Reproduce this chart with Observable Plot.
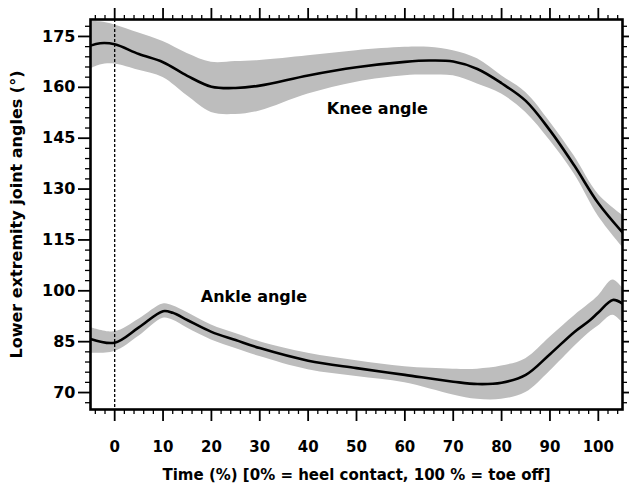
<!DOCTYPE html>
<html>
<head>
<meta charset="utf-8">
<script src="https://cdn.jsdelivr.net/npm/d3@7"></script>
<script src="https://cdn.jsdelivr.net/npm/@observablehq/plot@0.6"></script>
<style>
body { margin: 0; background: #fff; }
</style>
</head>
<body>
<div id="chart"></div>
<script>
// Time (% of stance)
const kneeTime = [-5, -3, 0, 5, 10, 15, 20, 25, 30, 40, 50, 60, 65, 70, 75, 80, 85, 90, 95, 100, 105];
const kneeMean = [172.3, 173.0, 172.7, 169.8, 167.4, 163.4, 160.2, 159.8, 160.5, 163.5, 165.9, 167.5, 167.9, 167.6, 165.4, 161.2, 156.0, 147.3, 137.0, 125.8, 117.2];
const kneeUpper = [179.4, 179.3, 178.4, 176.0, 173.5, 170.0, 167.4, 167.6, 167.9, 169.3, 170.8, 171.8, 171.8, 170.8, 168.4, 163.4, 158.5, 149.8, 139.8, 128.5, 122.3];
const kneeLower = [165.4, 166.6, 166.9, 165.0, 162.9, 157.5, 152.6, 152.0, 153.0, 158.0, 161.5, 163.4, 163.6, 163.4, 161.0, 158.0, 152.6, 144.3, 134.5, 122.0, 112.9];

const ankleTime = [-5, 0, 5, 10, 12, 15, 20, 25, 30, 40, 50, 60, 70, 75, 80, 85, 90, 95, 98, 100, 103, 105];
const ankleMean = [85.8, 84.7, 89.2, 94.0, 93.5, 91.4, 87.9, 85.5, 83.1, 79.4, 77.2, 75.2, 73.2, 72.5, 72.9, 75.2, 81.3, 87.8, 91.0, 93.6, 97.3, 96.2];
const ankleUpper = [89.2, 87.9, 91.6, 96.1, 95.6, 93.6, 89.9, 87.4, 85.0, 81.6, 79.4, 77.6, 76.9, 76.9, 77.8, 80.0, 86.3, 92.6, 96.0, 98.5, 103.2, 100.8];
const ankleLower = [81.6, 82.1, 86.6, 91.9, 91.4, 89.0, 85.5, 83.0, 80.6, 76.7, 74.7, 72.9, 69.3, 68.0, 68.0, 70.0, 76.3, 83.5, 87.5, 89.6, 92.8, 90.5];

const xMajorTicks = [0, 10, 20, 30, 40, 50, 60, 70, 80, 90, 100];
const xMinorTicks = [-4, -2, 2, 4, 6, 8, 12, 14, 16, 18, 22, 24, 26, 28, 32, 34, 36, 38, 42, 44, 46, 48, 52, 54, 56, 58, 62, 64, 66, 68, 72, 74, 76, 78, 82, 84, 86, 88, 92, 94, 96, 98, 102, 104];
const yMajorTicks = [70, 85, 100, 115, 130, 145, 160, 175];
const yMinorTicks = [67, 73, 76, 79, 82, 88, 91, 94, 97, 103, 106, 109, 112, 118, 121, 124, 127, 133, 136, 139, 142, 148, 151, 154, 157, 163, 166, 169, 172, 178];

const annotations = [
  {x: 54.3, y: 153.7, text: "Knee angle"},
  {x: 28.8, y: 98.1, text: "Ankle angle"}
];

const knee = kneeTime.map((t, i) => ({t, mean: kneeMean[i], hi: kneeUpper[i], lo: kneeLower[i]}));
const ankle = ankleTime.map((t, i) => ({t, mean: ankleMean[i], hi: ankleUpper[i], lo: ankleLower[i]}));

const curve = "catmull-rom";
const band = "#bdbdbd";
const font = "'DejaVu Sans', 'Liberation Sans', sans-serif";

const chart = Plot.plot({
  width: 629,
  height: 486,
  marginLeft: 90,
  marginRight: 7,
  marginTop: 19,
  marginBottom: 77,
  style: {fontFamily: font, fontWeight: "bold", fontSize: "15px", color: "#000", background: "#fff"},
  x: {domain: [-5, 105]},
  y: {domain: [65, 180]},
  clip: true,
  marks: [
    Plot.areaY(knee, {x: "t", y1: "lo", y2: "hi", fill: band, curve}),
    Plot.areaY(ankle, {x: "t", y1: "lo", y2: "hi", fill: band, curve}),
    Plot.line(knee, {x: "t", y: "mean", stroke: "#000", strokeWidth: 2.6, curve}),
    Plot.line(ankle, {x: "t", y: "mean", stroke: "#000", strokeWidth: 2.6, curve}),
    Plot.ruleX([0], {stroke: "#000", strokeWidth: 1.3, strokeDasharray: "3,2"}),
    Plot.text(annotations, {x: "x", y: "y", text: "text", fontSize: 16, fontWeight: "bold", fill: "#000"}),
    Plot.frame({stroke: "#000", strokeWidth: 2.6}),
    // bottom axis
    Plot.axisX({ticks: xMajorTicks, tickSize: 12, tickPadding: 20, strokeWidth: 1.8, fontSize: 15,
      label: "Time (%) [0% = heel contact, 100 % = toe off]", labelAnchor: "center", labelOffset: 70, labelArrow: "none"}),
    Plot.axisX({ticks: xMinorTicks, tickSize: 5, tickFormat: () => "", label: null, strokeWidth: 1.3}),
    // top axis
    Plot.axisX({anchor: "top", ticks: xMajorTicks, tickSize: 12, tickFormat: () => "", label: null, strokeWidth: 1.8}),
    Plot.axisX({anchor: "top", ticks: xMinorTicks, tickSize: 5, tickFormat: () => "", label: null, strokeWidth: 1.3}),
    // left axis
    Plot.axisY({ticks: yMajorTicks, tickSize: 12, tickPadding: 3, strokeWidth: 1.8, fontSize: 16,
      label: "Lower extremity joint angles (°)", labelAnchor: "center", labelOffset: 80, labelArrow: "none"}),
    Plot.axisY({ticks: yMinorTicks, tickSize: 5, tickFormat: () => "", label: null, strokeWidth: 1.3}),
    // right axis
    Plot.axisY({anchor: "right", ticks: yMajorTicks, tickSize: 7, tickFormat: () => "", label: null, strokeWidth: 1.8}),
    Plot.axisY({anchor: "right", ticks: yMinorTicks, tickSize: 4, tickFormat: () => "", label: null, strokeWidth: 1.3})
  ]
});
document.getElementById("chart").appendChild(chart);
</script>
</body>
</html>
